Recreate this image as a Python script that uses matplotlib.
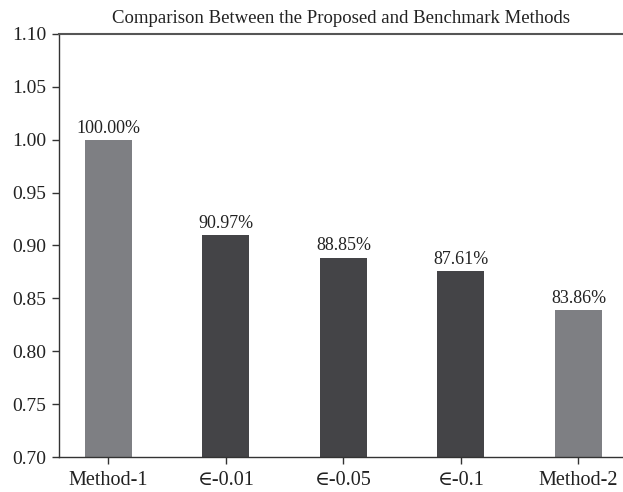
import matplotlib
matplotlib.use("Agg")
import matplotlib.pyplot as plt

categories = ["Method-1", "\u2208-0.01", "\u2208-0.05", "\u2208-0.1", "Method-2"]
values = [1.0000, 0.9097, 0.8885, 0.8761, 0.8386]
labels = ["100.00%", "90.97%", "88.85%", "87.61%", "83.86%"]
bar_colors = ["#7e7f83", "#444447", "#444447", "#444447", "#7e7f83"]
yticks = [0.70, 0.75, 0.80, 0.85, 0.90, 0.95, 1.00, 1.05, 1.10]

plt.rcParams["font.family"] = ["Liberation Serif", "DejaVu Serif"]

fig = plt.figure(figsize=(6.23, 4.92), dpi=100)
ax = fig.add_axes([0.0947, 0.0711, 0.9053, 0.8599])

x = list(range(len(categories)))
ax.bar(x, values, width=0.4, color=bar_colors, zorder=2)
for xi, v, lab in zip(x, values, labels):
    ax.text(xi, v + 0.003, lab, ha="center", va="bottom", fontsize=13, color="#222222")

ax.set_xlim(-0.421, 4.379)
ax.set_ylim(0.70, 1.10)
ax.set_yticks(yticks)
ax.set_yticklabels([f"{t:.2f}" for t in yticks])
ax.set_xticks(x)
ax.set_xticklabels(categories)
ax.tick_params(axis="both", color="#333333", labelcolor="#222222",
               length=5, width=1, direction="out")
ax.tick_params(axis="y", pad=4, labelsize=14)
ax.tick_params(axis="x", pad=5, labelsize=14.5)

for side in ["left", "bottom"]:
    ax.spines[side].set_color("#333333")
    ax.spines[side].set_linewidth(1)
ax.spines["top"].set_color("#555555")
ax.spines["top"].set_linewidth(1.5)
ax.spines["right"].set_visible(False)

ax.set_title("Comparison Between the Proposed and Benchmark Methods",
             fontsize=13.5, color="#222222", pad=8)

fig.savefig("out.png", dpi=100)
